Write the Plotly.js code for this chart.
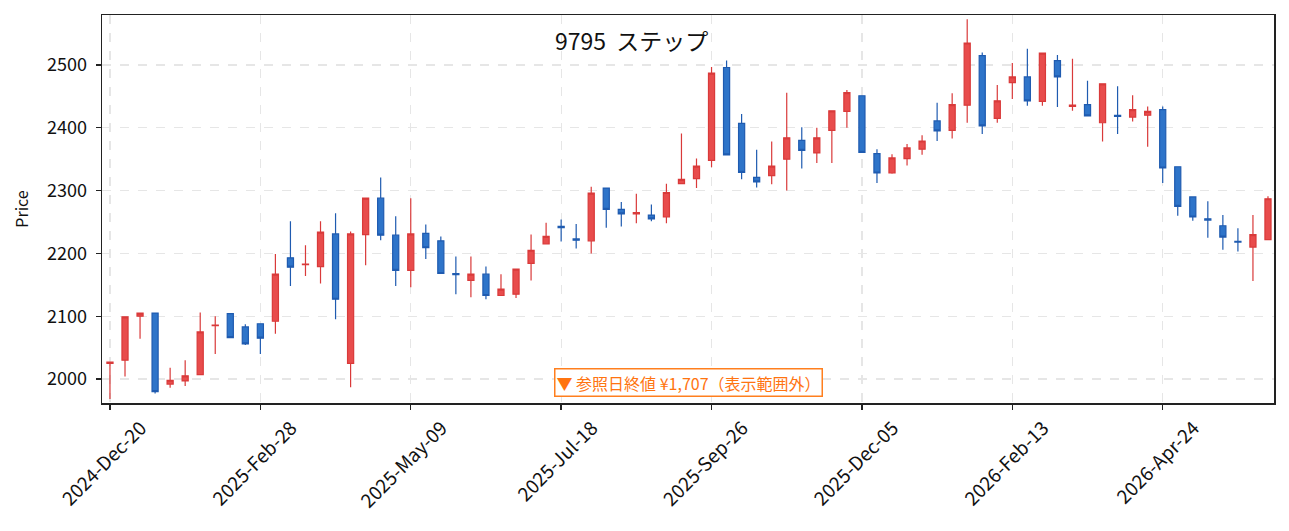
<!DOCTYPE html>
<html>
<head>
<meta charset="utf-8">
<script src="https://cdn.plot.ly/plotly-3.0.1.min.js"></script>
<style>
  html, body { margin: 0; padding: 0; background: #fff; }
  #chart { width: 1289px; height: 531px; }
</style>
</head>
<body>
<div id="chart"></div>
<script>
// weekly candles, 9795 ステップ
var dates = [
  "2024-12-20","2024-12-27","2025-01-03","2025-01-10","2025-01-17","2025-01-24","2025-01-31","2025-02-07","2025-02-14","2025-02-21",
  "2025-02-28","2025-03-07","2025-03-14","2025-03-21","2025-03-28","2025-04-04","2025-04-11","2025-04-18","2025-04-25","2025-05-02",
  "2025-05-09","2025-05-16","2025-05-23","2025-05-30","2025-06-06","2025-06-13","2025-06-20","2025-06-27","2025-07-04","2025-07-11",
  "2025-07-18","2025-07-25","2025-08-01","2025-08-08","2025-08-15","2025-08-22","2025-08-29","2025-09-05","2025-09-12","2025-09-19",
  "2025-09-26","2025-10-03","2025-10-10","2025-10-17","2025-10-24","2025-10-31","2025-11-07","2025-11-14","2025-11-21","2025-11-28",
  "2025-12-05","2025-12-12","2025-12-19","2025-12-26","2026-01-02","2026-01-09","2026-01-16","2026-01-23","2026-01-30","2026-02-06",
  "2026-02-13","2026-02-20","2026-02-27","2026-03-06","2026-03-13","2026-03-20","2026-03-27","2026-04-03","2026-04-10","2026-04-17",
  "2026-04-24","2026-05-01","2026-05-08","2026-05-15","2026-05-22","2026-05-29","2026-06-05","2026-06-12"
];

var open = [
  2025,2030,2100,2105,1992,1997,2007,2085,2104,2083,
  2088,2092,2193,2182,2179,2231,2025,2230,2288,2229,
  2173,2232,2220,2168,2157,2167,2133,2135,2184,2215,
  2243,2223,2220,2304,2270,2263,2261,2258,2311,2319,
  2348,2496,2407,2321,2324,2350,2380,2360,2396,2426,
  2451,2359,2328,2351,2366,2411,2396,2436,2515,2415,
  2472,2481,2442,2507,2434,2437,2408,2420,2417,2420,
  2429,2338,2290,2255,2244,2219,2210,2222
];
var high = [
  2028,2100,2105,2106,2018,2030,2106,2100,2104,2087,
  2088,2199,2251,2213,2251,2264,2235,2288,2321,2259,
  2288,2246,2227,2195,2195,2179,2167,2175,2230,2249,
  2254,2247,2306,2304,2282,2295,2278,2311,2391,2351,
  2497,2507,2422,2365,2378,2456,2401,2400,2428,2460,
  2451,2366,2358,2374,2388,2440,2455,2573,2520,2468,
  2503,2526,2520,2516,2510,2475,2470,2466,2452,2434,
  2434,2338,2290,2283,2261,2240,2261,2291
];
var low = [
  1968,2004,2064,1977,1986,1989,2006,2040,2066,2054,
  2040,2072,2148,2164,2152,2095,1987,2181,2221,2148,
  2146,2191,2168,2135,2130,2127,2133,2129,2157,2214,
  2219,2208,2200,2241,2243,2248,2251,2248,2311,2304,
  2337,2357,2318,2305,2310,2300,2335,2344,2344,2400,
  2361,2312,2327,2340,2357,2379,2383,2408,2390,2408,
  2446,2435,2435,2433,2427,2418,2378,2390,2410,2370,
  2312,2260,2252,2225,2206,2203,2156,2221
];
var close = [
  2027,2099,2105,1980,1998,2005,2075,2086,2066,2056,
  2065,2167,2178,2183,2234,2127,2231,2288,2229,2173,
  2231,2209,2168,2166,2167,2133,2143,2175,2205,2227,
  2241,2221,2296,2270,2263,2265,2255,2297,2318,2339,
  2487,2357,2329,2314,2339,2384,2364,2384,2427,2456,
  2361,2328,2352,2368,2379,2395,2437,2535,2403,2443,
  2481,2443,2519,2481,2436,2419,2470,2418,2429,2426,
  2336,2275,2258,2253,2226,2218,2230,2287
];

var tickDates = ["2024-12-20","2025-02-28","2025-05-09","2025-07-18","2025-09-26","2025-12-05","2026-02-13","2026-04-24"];
var tickLabels = ["2024-Dec-20","2025-Feb-28","2025-May-09","2025-Jul-18","2025-Sep-26","2025-Dec-05","2026-Feb-13","2026-Apr-24"];

var titleText = "9795  ステップ";
var noteText = "▼ 参照日終値 ¥1,707（表示範囲外）";

var font = "Noto Sans CJK JP, Noto Sans, DejaVu Sans, sans-serif";

var trace = {
  type: "candlestick",
  x: dates,
  open: open, high: high, low: low, close: close,
  whiskerwidth: 0,
  increasing: { line: { color: "#d93a3a", width: 1.2 }, fillcolor: "#e84c4c" },
  decreasing: { line: { color: "#1f5bb0", width: 1.2 }, fillcolor: "#2e74c9" },
  hoverinfo: "x+y"
};

var layout = {
  width: 1289, height: 531,
  margin: { l: 102, r: 15, t: 15, b: 128 },
  paper_bgcolor: "#fff", plot_bgcolor: "#fff",
  showlegend: false,
  boxgap: 0.42,
  font: { family: font, size: 18, color: "#111" },
  xaxis: {
    type: "category",
    range: [-0.53, 77.4],
    rangeslider: { visible: false },
    tickmode: "array",
    tickvals: tickDates,
    ticktext: tickLabels,
    tickangle: -45,
    ticklabelshift: 31,
    ticks: "outside", ticklen: 5, tickwidth: 1.3, tickcolor: "#222",
    showline: true, linecolor: "#222", linewidth: 1.5, mirror: true,
    showgrid: true, gridcolor: "#e6e6e6", griddash: "dash", gridwidth: 1.2,
    tickfont: { family: font, size: 19, color: "#111" },
    zeroline: false
  },
  yaxis: {
    range: [1961.8, 2579.6],
    tickvals: [2000, 2100, 2200, 2300, 2400, 2500],
    ticks: "outside", ticklen: 5, tickwidth: 1.3, tickcolor: "#222",
    ticklabelstandoff: 5,
    showline: true, linecolor: "#222", linewidth: 1.5, mirror: true,
    showgrid: true, gridcolor: "#e6e6e6", griddash: "dash", gridwidth: 1.2,
    tickfont: { family: font, size: 18, color: "#111" },
    title: { text: "Price", font: { family: font, size: 16, color: "#111" }, standoff: 14 },
    zeroline: false
  },
  annotations: [
    {
      xref: "paper", yref: "paper", x: 0.452, y: 0.936,
      xanchor: "center", yanchor: "middle",
      text: titleText, showarrow: false,
      font: { family: font, size: 23, color: "#111" }
    },
    {
      xref: "paper", yref: "paper", x: 0.5, y: 0.052,
      xanchor: "center", yanchor: "middle",
      text: noteText, showarrow: false,
      font: { family: font, size: 16, color: "#ff7410" },
      bgcolor: "#fff", bordercolor: "#ff7f1e", borderwidth: 1.5, borderpad: 1
    }
  ]
};

Plotly.newPlot(document.getElementById("chart"), [trace], layout, { displayModeBar: false, staticPlot: true });
</script>
</body>
</html>
